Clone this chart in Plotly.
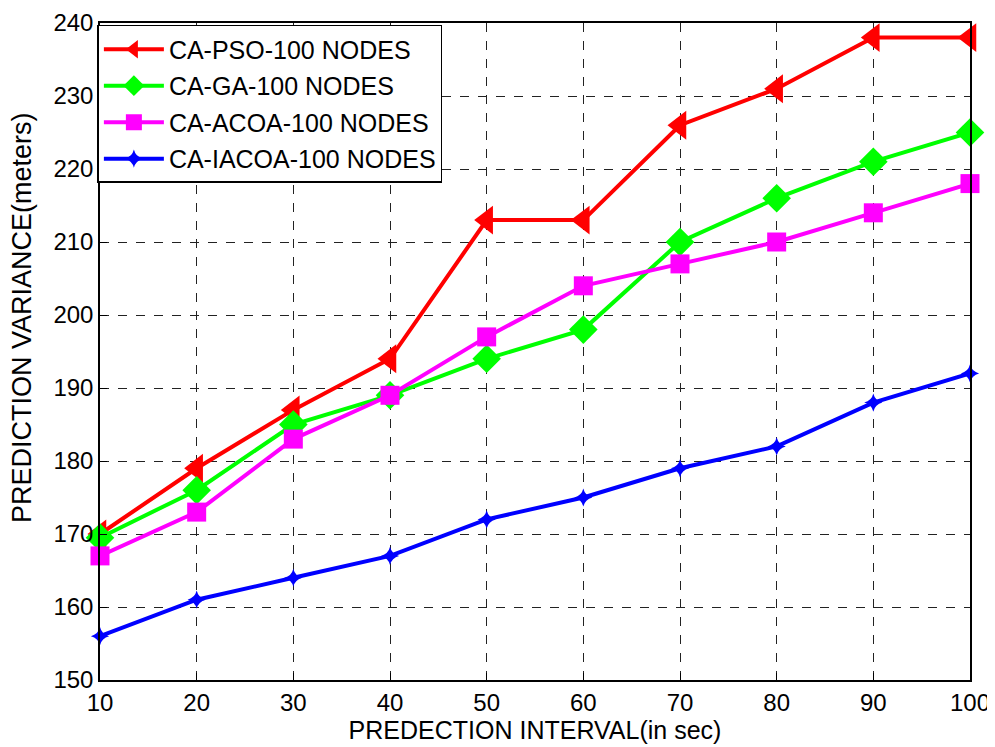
import plotly.graph_objects as go

x_vals = [10, 20, 30, 40, 50, 60, 70, 80, 90, 100]
pso = [170, 179, 187, 194, 213, 213, 226, 231, 238, 238]
ga = [169.5, 176, 185, 189, 194, 198, 210, 216, 221, 225]
acoa = [167, 173, 183, 189, 197, 204, 207, 210, 214, 218]
iacoa = [156, 161, 164, 167, 172, 175, 179, 182, 188, 192]

x_title = "PREDECTION INTERVAL(in sec)"
y_title = "PREDICTION VARIANCE(meters)"

series = [
    ("CA-PSO-100 NODES", pso, "#ff0000", "triangle-left", 25),
    ("CA-GA-100 NODES", ga, "#00ff00", "diamond", 22),
    ("CA-ACOA-100 NODES", acoa, "#ff00ff", "square", 19),
    ("CA-IACOA-100 NODES", iacoa, "#0000ff", "star-diamond", 13),
]

fig = go.Figure()
for i, (name, ys, color, sym, size) in enumerate(series):
    fig.add_trace(go.Scatter(
        x=x_vals, y=ys, name=name, mode="lines+markers",
        legendgroup=f"g{i}",
        line=dict(color=color, width=4),
        marker=dict(symbol=sym, size=size, color=color, line=dict(width=0)),
        cliponaxis=False,
    ))

axis_common = dict(
    showline=True, linecolor="black", linewidth=1.5, mirror=True,
    ticks="inside", ticklen=7, tickcolor="black",
    showgrid=True, gridcolor="#222222", griddash="dash", gridwidth=1,
    zeroline=False, automargin=False,
    tickfont=dict(family="Liberation Sans, Arial", size=24, color="black"),
)

fig.update_layout(
    width=995, height=747,
    paper_bgcolor="white", plot_bgcolor="white",
    margin=dict(l=92, r=33, t=15, b=75),
    font=dict(family="Liberation Sans, Arial", color="black"),
    showlegend=True,
    legend=dict(
        x=-0.003, y=0.997, xanchor="left", yanchor="top",
        bgcolor="white", bordercolor="black", borderwidth=1.5,
        font=dict(size=25, color="black"),
        itemwidth=60, tracegroupgap=1,
    ),
    xaxis=dict(axis_common, range=[10, 100], tickvals=x_vals,
               title=dict(text=x_title, font=dict(size=25), standoff=4)),
    yaxis=dict(axis_common, range=[150, 240], tickvals=list(range(150, 241, 10))),
    annotations=[dict(
        text=y_title, textangle=-90, showarrow=False,
        xref="paper", yref="paper", x=0, y=0.551,
        xanchor="center", yanchor="middle", xshift=-78,
        font=dict(size=27, color="black"),
    )],
)

fig.write_html("out.html")
